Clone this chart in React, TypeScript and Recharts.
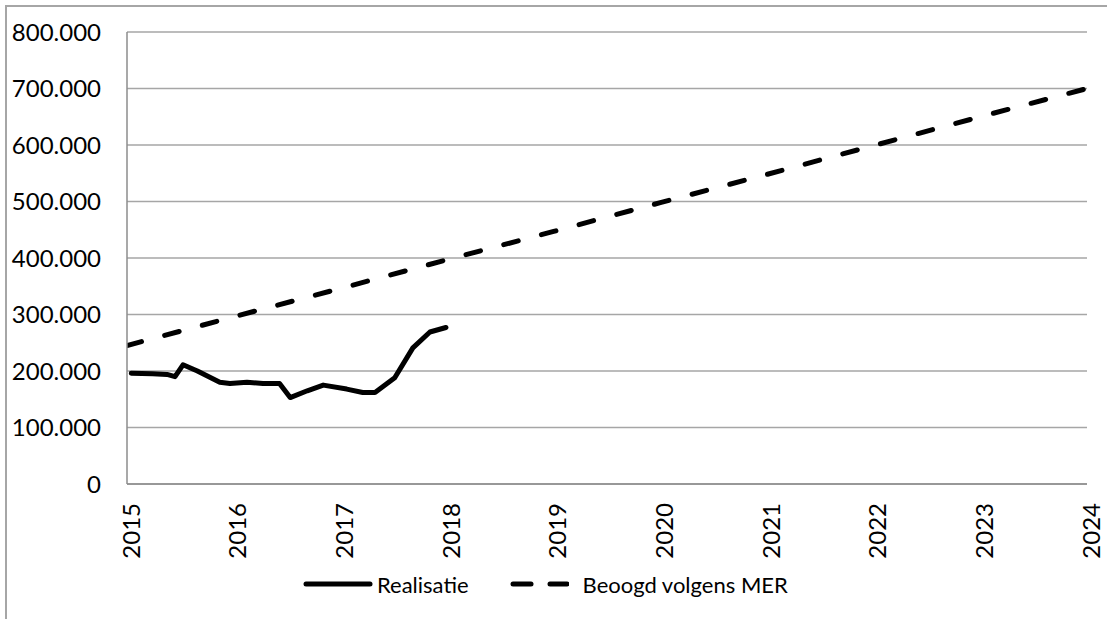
import React from "react";
import {
  LineChart,
  Line,
  XAxis,
  YAxis,
  CartesianGrid,
  Legend,
} from "recharts";

// Realisatie (decimal years)
const realisatieJaar = [
  2015.04, 2015.24, 2015.375, 2015.45, 2015.525, 2015.66, 2015.87, 2015.965,
  2016.125, 2016.275, 2016.43, 2016.53, 2016.69, 2016.84, 2017.06, 2017.21,
  2017.325, 2017.51, 2017.68, 2017.84, 2017.99,
];
const realisatieWaarde = [
  196000, 195000, 194000, 190000, 211000, 200000, 180000, 178000, 180000,
  178000, 178000, 153000, 165000, 175000, 168000, 162000, 162000, 188000,
  241000, 269000, 277000,
];

// Beoogd volgens MER
const beoogdJaar = [2015, 2016, 2017, 2018, 2019, 2020, 2021, 2022, 2023, 2024];
const beoogdWaarde = [
  245000, 296000, 346000, 397000, 447000, 498000, 548000, 599000, 650000,
  700000,
];

const seriesNamen = ["Realisatie", "Beoogd volgens MER"];
const jaarTicks = [2015, 2016, 2017, 2018, 2019, 2020, 2021, 2022, 2023, 2024];
const waardeTicks = [0, 100000, 200000, 300000, 400000, 500000, 600000, 700000, 800000];

const realisatie = realisatieJaar.map((j, i) => ({ jaar: j, waarde: realisatieWaarde[i] }));
const beoogd = beoogdJaar.map((j, i) => ({ jaar: j, waarde: beoogdWaarde[i] }));

const fmt = (v: number) => String(v).replace(/\B(?=(\d{3})+(?!\d))/g, ".");

const JaarTick = (props: any) => {
  const { x, y, payload } = props;
  return (
    <text
      transform={`translate(${x + 3}, ${y + 19}) rotate(-90)`}
      textAnchor="end"
      dominantBaseline="central"
      fontSize={24}
      fill="#000"
    >
      {payload.value}
    </text>
  );
};

const LegendContent = (props: any) => {
  const items = [...(props.payload || [])].sort(
    (a: any, b: any) => seriesNamen.indexOf(a.value) - seriesNamen.indexOf(b.value)
  );
  return (
    <div style={{ height: 50, display: "flex", paddingLeft: 303, paddingTop: 1, alignItems: "flex-start" }}>
      {items.map((entry: any, i: number) => {
        const dashed = entry.value === seriesNamen[1];
        return (
          <div key={i} style={{ display: "flex", alignItems: "center", marginRight: 40, height: 30 }}>
            <svg width={dashed ? 60 : 70} height={10} style={{ marginRight: dashed ? 14 : 4 }}>
              {dashed ? (
                <>
                  <line x1={4} y1={5} x2={22} y2={5} stroke="#000" strokeWidth={5} strokeLinecap="round" />
                  <line x1={41} y1={5} x2={58} y2={5} stroke="#000" strokeWidth={5} strokeLinecap="round" />
                </>
              ) : (
                <line x1={3} y1={5} x2={67} y2={5} stroke="#000" strokeWidth={5} strokeLinecap="round" />
              )}
            </svg>
            <span style={{ fontSize: 22, color: "#000" }}>{entry.value}</span>
          </div>
        );
      })}
    </div>
  );
};

const App = () => {
  return (
    <div
      style={{
        position: "absolute",
        left: 0,
        top: 0,
        width: 1107,
        height: 619,
        overflow: "hidden",
        background: "#fff",
        fontFamily: "Lato, 'Open Sans', sans-serif",
      }}
    >
      <div
        style={{
          position: "absolute",
          left: 5,
          top: 5,
          width: 1200,
          height: 700,
          borderLeft: "2px solid #a6a6a6",
          borderTop: "2px solid #a6a6a6",
        }}
      />
      <LineChart
        width={1107}
        height={619}
        margin={{ top: 32, right: 20, bottom: 0, left: 0 }}
        style={{ position: "relative" }}
      >
        <CartesianGrid vertical={false} stroke="#a6a6a6" strokeWidth={1.5} />
        <XAxis
          dataKey="jaar"
          type="number"
          domain={[2015, 2024]}
          ticks={jaarTicks}
          allowDataOverflow
          height={84}
          tickSize={0}
          tickMargin={0}
          tickLine={false}
          axisLine={{ stroke: "#8c8c8c", strokeWidth: 1.5 }}
          tick={<JaarTick />}
          interval={0}
        />
        <YAxis
          type="number"
          domain={[0, 800000]}
          ticks={waardeTicks}
          width={127}
          tickSize={0}
          tickMargin={26}
          tickLine={false}
          axisLine={{ stroke: "#8c8c8c", strokeWidth: 1.5 }}
          tick={{ fill: "#000", fontSize: 24 }}
          tickFormatter={fmt}
          interval={0}
        />
        <Legend verticalAlign="bottom" content={<LegendContent />} />
        <Line
          data={realisatie}
          dataKey="waarde"
          name="Realisatie"
          type="linear"
          stroke="#000"
          strokeWidth={5}
          strokeLinejoin="round"
          strokeLinecap="round"
          dot={false}
          activeDot={false}
          isAnimationActive={false}
        />
        <Line
          data={beoogd}
          dataKey="waarde"
          name="Beoogd volgens MER"
          type="linear"
          stroke="#000"
          strokeWidth={5}
          strokeDasharray="15 24"
          strokeLinecap="round"
          dot={false}
          activeDot={false}
          isAnimationActive={false}
        />
      </LineChart>
    </div>
  );
};

export default App;
